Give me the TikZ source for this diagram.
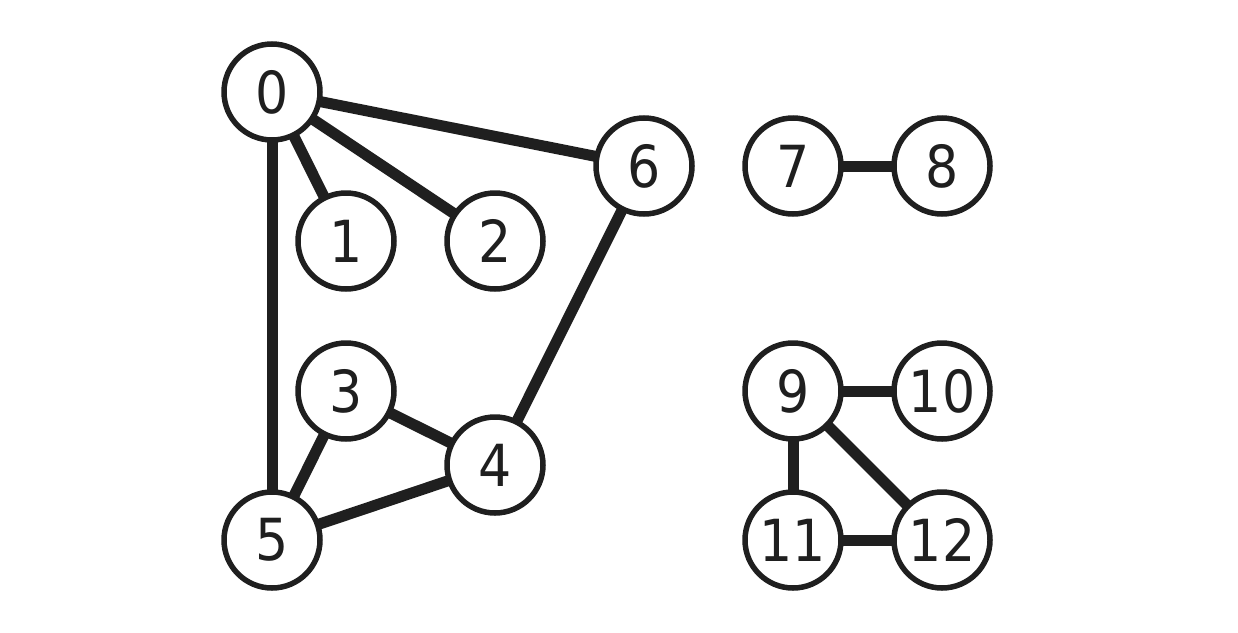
\documentclass[tikz,border=0pt]{standalone}
\usepackage{fontspec}
\setmainfont{DejaVu Sans Condensed}
\begin{document}
\begin{tikzpicture}[x=1pt,y=-1pt,
  vert/.style={circle,draw=black!88,line width=5.5pt,fill=white,minimum size=96pt,inner sep=0pt,outer sep=0pt,font=\fontsize{58}{62}\selectfont,text=black!88},
  edge/.style={draw=black!88,line width=11pt}]
\useasboundingbox (0,0) rectangle (1238,632);
\node[vert] (n0) at (272,92) {0};
\node[vert] (n1) at (346,241) {1};
\node[vert] (n2) at (495,241) {2};
\node[vert] (n6) at (644,166) {6};
\node[vert] (n7) at (793,166) {7};
\node[vert] (n8) at (942,166) {8};
\node[vert] (n3) at (346,391) {3};
\node[vert] (n4) at (495,465) {4};
\node[vert] (n5) at (272,540) {5};
\node[vert] (n9) at (793,391) {9};
\node[vert] (n10) at (942,391) {10};
\node[vert] (n11) at (793,540) {11};
\node[vert] (n12) at (942,540) {12};
\draw[edge] (n0) -- (n1);
\draw[edge] (n0) -- (n2);
\draw[edge] (n0) -- (n6);
\draw[edge] (n0) -- (n5);
\draw[edge] (n6) -- (n4);
\draw[edge] (n3) -- (n4);
\draw[edge] (n3) -- (n5);
\draw[edge] (n5) -- (n4);
\draw[edge] (n7) -- (n8);
\draw[edge] (n9) -- (n10);
\draw[edge] (n9) -- (n11);
\draw[edge] (n9) -- (n12);
\draw[edge] (n11) -- (n12);
\end{tikzpicture}
\end{document}
